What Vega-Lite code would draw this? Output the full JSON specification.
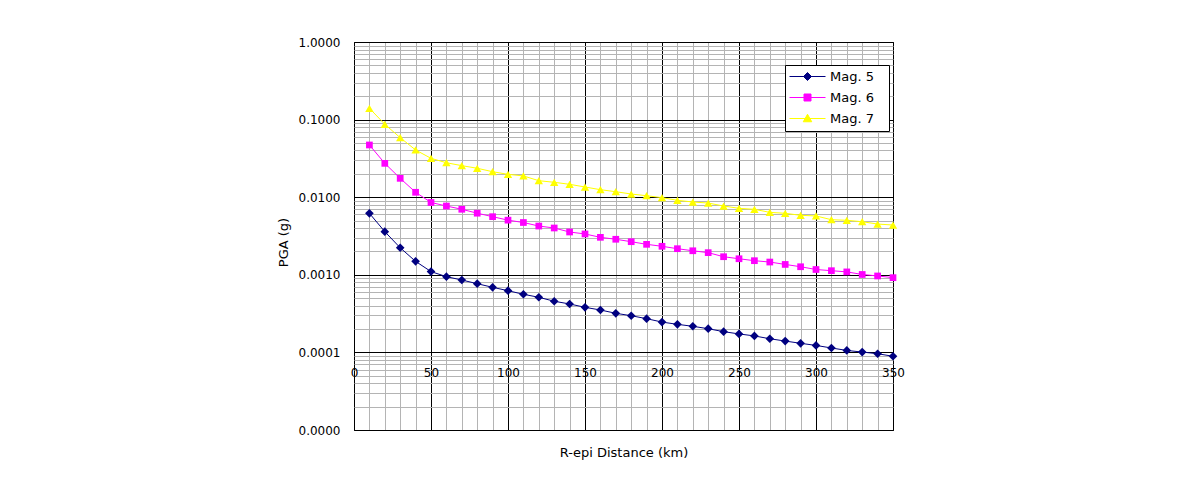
{
  "$schema": "https://vega.github.io/schema/vega-lite/v6.json",
  "width": 539,
  "height": 388,
  "autosize": {"type": "none"},
  "padding": {"left": 354, "top": 42, "right": 297, "bottom": 49},
  "background": "white",
  "config": {
    "view": {"stroke": "black", "strokeWidth": 1},
    "font": "DejaVu Sans",
    "axis": {"labelColor": "black", "titleColor": "black", "titleFontWeight": "normal", "labelFontSize": 12, "titleFontSize": 13}
  },
  "data": {
    "values": [
      {"d": 10, "pga": 0.0062, "mag": "Mag. 5"},
      {"d": 20, "pga": 0.0036, "mag": "Mag. 5"},
      {"d": 30, "pga": 0.00223, "mag": "Mag. 5"},
      {"d": 40, "pga": 0.00149, "mag": "Mag. 5"},
      {"d": 50, "pga": 0.0011, "mag": "Mag. 5"},
      {"d": 60, "pga": 0.000946, "mag": "Mag. 5"},
      {"d": 70, "pga": 0.000857, "mag": "Mag. 5"},
      {"d": 80, "pga": 0.000768, "mag": "Mag. 5"},
      {"d": 90, "pga": 0.00069, "mag": "Mag. 5"},
      {"d": 100, "pga": 0.000624, "mag": "Mag. 5"},
      {"d": 110, "pga": 0.000561, "mag": "Mag. 5"},
      {"d": 120, "pga": 0.000513, "mag": "Mag. 5"},
      {"d": 130, "pga": 0.000456, "mag": "Mag. 5"},
      {"d": 140, "pga": 0.000421, "mag": "Mag. 5"},
      {"d": 150, "pga": 0.000381, "mag": "Mag. 5"},
      {"d": 160, "pga": 0.000352, "mag": "Mag. 5"},
      {"d": 170, "pga": 0.000319, "mag": "Mag. 5"},
      {"d": 180, "pga": 0.000297, "mag": "Mag. 5"},
      {"d": 190, "pga": 0.000272, "mag": "Mag. 5"},
      {"d": 200, "pga": 0.000246, "mag": "Mag. 5"},
      {"d": 210, "pga": 0.00023, "mag": "Mag. 5"},
      {"d": 220, "pga": 0.000217, "mag": "Mag. 5"},
      {"d": 230, "pga": 0.000202, "mag": "Mag. 5"},
      {"d": 240, "pga": 0.000185, "mag": "Mag. 5"},
      {"d": 250, "pga": 0.000173, "mag": "Mag. 5"},
      {"d": 260, "pga": 0.000163, "mag": "Mag. 5"},
      {"d": 270, "pga": 0.00015, "mag": "Mag. 5"},
      {"d": 280, "pga": 0.00014, "mag": "Mag. 5"},
      {"d": 290, "pga": 0.000131, "mag": "Mag. 5"},
      {"d": 300, "pga": 0.000123, "mag": "Mag. 5"},
      {"d": 310, "pga": 0.000114, "mag": "Mag. 5"},
      {"d": 320, "pga": 0.000106, "mag": "Mag. 5"},
      {"d": 330, "pga": 0.000101, "mag": "Mag. 5"},
      {"d": 340, "pga": 0.0000962, "mag": "Mag. 5"},
      {"d": 350, "pga": 0.0000891, "mag": "Mag. 5"},
      {"d": 10, "pga": 0.0471, "mag": "Mag. 6"},
      {"d": 20, "pga": 0.0273, "mag": "Mag. 6"},
      {"d": 30, "pga": 0.0175, "mag": "Mag. 6"},
      {"d": 40, "pga": 0.01157, "mag": "Mag. 6"},
      {"d": 50, "pga": 0.00855, "mag": "Mag. 6"},
      {"d": 60, "pga": 0.0077, "mag": "Mag. 6"},
      {"d": 70, "pga": 0.00699, "mag": "Mag. 6"},
      {"d": 80, "pga": 0.00622, "mag": "Mag. 6"},
      {"d": 90, "pga": 0.00561, "mag": "Mag. 6"},
      {"d": 100, "pga": 0.00506, "mag": "Mag. 6"},
      {"d": 110, "pga": 0.00472, "mag": "Mag. 6"},
      {"d": 120, "pga": 0.00425, "mag": "Mag. 6"},
      {"d": 130, "pga": 0.00401, "mag": "Mag. 6"},
      {"d": 140, "pga": 0.00356, "mag": "Mag. 6"},
      {"d": 150, "pga": 0.00336, "mag": "Mag. 6"},
      {"d": 160, "pga": 0.00304, "mag": "Mag. 6"},
      {"d": 170, "pga": 0.00287, "mag": "Mag. 6"},
      {"d": 180, "pga": 0.00267, "mag": "Mag. 6"},
      {"d": 190, "pga": 0.00247, "mag": "Mag. 6"},
      {"d": 200, "pga": 0.00233, "mag": "Mag. 6"},
      {"d": 210, "pga": 0.00217, "mag": "Mag. 6"},
      {"d": 220, "pga": 0.00204, "mag": "Mag. 6"},
      {"d": 230, "pga": 0.00193, "mag": "Mag. 6"},
      {"d": 240, "pga": 0.00171, "mag": "Mag. 6"},
      {"d": 250, "pga": 0.00161, "mag": "Mag. 6"},
      {"d": 260, "pga": 0.00152, "mag": "Mag. 6"},
      {"d": 270, "pga": 0.00146, "mag": "Mag. 6"},
      {"d": 280, "pga": 0.00136, "mag": "Mag. 6"},
      {"d": 290, "pga": 0.00127, "mag": "Mag. 6"},
      {"d": 300, "pga": 0.00117, "mag": "Mag. 6"},
      {"d": 310, "pga": 0.00113, "mag": "Mag. 6"},
      {"d": 320, "pga": 0.00109, "mag": "Mag. 6"},
      {"d": 330, "pga": 0.00101, "mag": "Mag. 6"},
      {"d": 340, "pga": 0.000966, "mag": "Mag. 6"},
      {"d": 350, "pga": 0.000919, "mag": "Mag. 6"},
      {"d": 10, "pga": 0.14, "mag": "Mag. 7"},
      {"d": 20, "pga": 0.0871, "mag": "Mag. 7"},
      {"d": 30, "pga": 0.0585, "mag": "Mag. 7"},
      {"d": 40, "pga": 0.0406, "mag": "Mag. 7"},
      {"d": 50, "pga": 0.0317, "mag": "Mag. 7"},
      {"d": 60, "pga": 0.0278, "mag": "Mag. 7"},
      {"d": 70, "pga": 0.0255, "mag": "Mag. 7"},
      {"d": 80, "pga": 0.0236, "mag": "Mag. 7"},
      {"d": 90, "pga": 0.0213, "mag": "Mag. 7"},
      {"d": 100, "pga": 0.0197, "mag": "Mag. 7"},
      {"d": 110, "pga": 0.0188, "mag": "Mag. 7"},
      {"d": 120, "pga": 0.01633, "mag": "Mag. 7"},
      {"d": 130, "pga": 0.01556, "mag": "Mag. 7"},
      {"d": 140, "pga": 0.01466, "mag": "Mag. 7"},
      {"d": 150, "pga": 0.01353, "mag": "Mag. 7"},
      {"d": 160, "pga": 0.0125, "mag": "Mag. 7"},
      {"d": 170, "pga": 0.01177, "mag": "Mag. 7"},
      {"d": 180, "pga": 0.01099, "mag": "Mag. 7"},
      {"d": 190, "pga": 0.01045, "mag": "Mag. 7"},
      {"d": 200, "pga": 0.00986, "mag": "Mag. 7"},
      {"d": 210, "pga": 0.00912, "mag": "Mag. 7"},
      {"d": 220, "pga": 0.00867, "mag": "Mag. 7"},
      {"d": 230, "pga": 0.00841, "mag": "Mag. 7"},
      {"d": 240, "pga": 0.0077, "mag": "Mag. 7"},
      {"d": 250, "pga": 0.00719, "mag": "Mag. 7"},
      {"d": 260, "pga": 0.00698, "mag": "Mag. 7"},
      {"d": 270, "pga": 0.00638, "mag": "Mag. 7"},
      {"d": 280, "pga": 0.0062, "mag": "Mag. 7"},
      {"d": 290, "pga": 0.00584, "mag": "Mag. 7"},
      {"d": 300, "pga": 0.00573, "mag": "Mag. 7"},
      {"d": 310, "pga": 0.00513, "mag": "Mag. 7"},
      {"d": 320, "pga": 0.00504, "mag": "Mag. 7"},
      {"d": 330, "pga": 0.00483, "mag": "Mag. 7"},
      {"d": 340, "pga": 0.00451, "mag": "Mag. 7"},
      {"d": 350, "pga": 0.00438, "mag": "Mag. 7"}
    ]
  },
  "layer": [
    {
      "mark": {"type": "line", "strokeWidth": 1},
      "encoding": {
        "x": {
          "field": "d", "type": "quantitative",
          "scale": {"domain": [0, 350], "nice": false, "zero": false},
          "axis": {
            "orient": "bottom",
            "values": [10, 20, 30, 40, 60, 70, 80, 90, 110, 120, 130, 140, 160, 170, 180, 190, 210, 220, 230, 240, 260, 270, 280, 290, 310, 320, 330, 340],
            "grid": true, "gridColor": "#b4b4b4", "gridWidth": 1, "labels": false, "ticks": false, "domain": false,
            "title": "R-epi Distance (km)", "titleY": 22, "titleBaseline": "middle"
          }
        },
        "y": {
          "field": "pga", "type": "quantitative",
          "scale": {"type": "log", "domain": [0.00001, 1], "nice": false},
          "axis": {
            "orient": "left",
            "values": [0.00002, 0.00003, 0.00004, 0.00005, 0.00006, 0.00007, 0.00008, 0.00009,
                       0.0002, 0.0003, 0.0004, 0.0005, 0.0006, 0.0007, 0.0008, 0.0009,
                       0.002, 0.003, 0.004, 0.005, 0.006, 0.007, 0.008, 0.009,
                       0.02, 0.03, 0.04, 0.05, 0.06, 0.07, 0.08, 0.09,
                       0.2, 0.3, 0.4, 0.5, 0.6, 0.7, 0.8, 0.9],
            "grid": true, "gridColor": "#b4b4b4", "gridWidth": 1, "labels": false, "ticks": false, "domain": false, "title": null
          }
        },
        "color": {
          "field": "mag", "type": "nominal",
          "scale": {"domain": ["Mag. 5", "Mag. 6", "Mag. 7"], "range": ["#000080", "#FF00FF", "#FFFF00"]},
          "legend": {
            "title": null, "orient": "none", "legendX": 431, "legendY": 23,
            "fillColor": "white", "strokeColor": "black", "padding": 5,
            "labelFontSize": 13, "labelColor": "black",
            "labelExpr": "datum.label + '\u2800'",
            "symbolSize": 100, "symbolOffset": 11, "labelOffset": 16, "rowPadding": 7, "symbolStrokeWidth": 1,
            "encoding": {
              "symbols": {
                "shape": {"value": {"expr": "datum.value === 'Mag. 5' ? 'M-3.6,0H3.6M0,-0.8L0.8,0L0,0.8L-0.8,0Z' : datum.value === 'Mag. 6' ? 'M-3.6,0H3.6M-0.7,-0.7H0.7V0.7H-0.7Z' : 'M-3.6,0H3.6M0,-0.85L0.85,0.65L-0.85,0.65Z'"}},
                "fill": {"value": {"expr": "scale('color', datum.value)"}},
                "stroke": {"value": {"expr": "scale('color', datum.value)"}},
                "strokeWidth": {"value": 1},
                "opacity": {"value": 1}
              }
            }
          }
        }
      }
    },
    {
      "transform": [{"filter": {"field": "mag", "equal": "Mag. 5"}}],
      "mark": {"type": "point", "shape": "diamond", "filled": true, "color": "#000080", "opacity": 1, "size": 75},
      "encoding": {
        "x": {
          "field": "d", "type": "quantitative",
          "scale": {"domain": [0, 350], "nice": false, "zero": false},
          "axis": {
            "orient": "bottom",
            "values": [0, 50, 100, 150, 200, 250, 300, 350],
            "grid": true, "gridColor": "black", "gridWidth": 1, "ticks": false, "domain": false,
            "offset": -78, "labelPadding": 15, "labelFlush": false, "title": null
          }
        },
        "y": {
          "field": "pga", "type": "quantitative",
          "scale": {"type": "log", "domain": [0.00001, 1], "nice": false},
          "axis": {
            "orient": "left",
            "values": [0.00001, 0.0001, 0.001, 0.01, 0.1, 1],
            "format": ".4f",
            "grid": true, "gridColor": "black", "gridWidth": 1, "ticks": false, "domain": false,
            "labelPadding": 14, "labelFlush": false,
            "title": "PGA (g)", "titleX": -71, "titleY": 200, "titleBaseline": "middle"
          }
        }
      }
    },
    {
      "transform": [{"filter": {"field": "mag", "equal": "Mag. 6"}}],
      "mark": {"type": "point", "shape": "square", "filled": true, "color": "#FF00FF", "opacity": 1, "size": 45},
      "encoding": {
        "x": {"field": "d", "type": "quantitative", "scale": {"domain": [0, 350], "nice": false, "zero": false}, "axis": null},
        "y": {"field": "pga", "type": "quantitative", "scale": {"type": "log", "domain": [0.00001, 1], "nice": false}, "axis": null}
      }
    },
    {
      "transform": [{"filter": {"field": "mag", "equal": "Mag. 7"}}],
      "mark": {"type": "point", "shape": "triangle-up", "filled": true, "color": "#FFFF00", "opacity": 1, "size": 70},
      "encoding": {
        "x": {"field": "d", "type": "quantitative", "scale": {"domain": [0, 350], "nice": false, "zero": false}, "axis": null},
        "y": {"field": "pga", "type": "quantitative", "scale": {"type": "log", "domain": [0.00001, 1], "nice": false}, "axis": null}
      }
    }
  ],
  "resolve": {"axis": {"x": "independent", "y": "independent"}}
}
